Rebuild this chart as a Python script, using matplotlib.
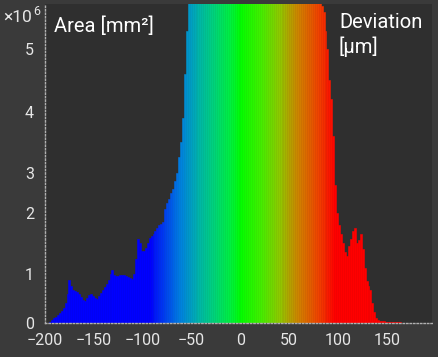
import numpy as np
import matplotlib
matplotlib.use("Agg")
import matplotlib.pyplot as plt
from matplotlib.colors import LinearSegmentedColormap, Normalize

# histogram of deviation, bins 2 um wide, area in 1e6 mm^2
centers = np.arange(-199, 197, 2)
area = [
    0.0, 0.01, 0.03, 0.06, 0.1,
    0.12, 0.16, 0.2, 0.24, 0.3,
    0.4, 0.6, 0.88, 0.75, 0.68,
    0.65, 0.64, 0.6, 0.52, 0.46,
    0.44, 0.5, 0.58, 0.6, 0.55,
    0.5, 0.48, 0.55, 0.62, 0.68,
    0.74, 0.8, 0.88, 1.0, 1.07,
    0.97, 0.95, 0.96, 0.98, 0.97,
    0.97, 0.95, 0.93, 0.92, 0.9,
    1.0, 1.25, 1.57, 1.5, 1.38,
    1.38, 1.42, 1.5, 1.58, 1.62,
    1.65, 1.7, 1.75, 1.8, 1.82,
    1.85, 2.1, 2.25, 2.35, 2.5,
    2.6, 2.8, 3.0, 3.25, 3.5,
    3.9, 4.6, 5.3, 5.9, 7.0,
    8.0, 9.0, 10.0, 11.0, 12.0,
    13, 14, 15, 16, 17,
    18, 19, 20, 21, 22,
    22, 23, 23, 24, 24,
    24, 25, 25, 25, 25,
    25, 25, 24, 24, 24,
    23, 23, 22, 22, 21,
    20, 19, 18, 17, 16,
    15, 14, 13, 12, 11,
    10, 9.5, 9, 8.5, 8,
    7.5, 7.2, 7, 6.8, 6.6,
    6.4, 6.3, 6.2, 6.1, 6.0,
    6.0, 6.0, 5.95, 5.9, 5.85,
    5.8, 5.7, 5.6, 5.3, 5.0,
    4.5, 4.2, 3.6, 2.7, 2.0,
    1.8, 1.65, 1.5, 1.35, 1.3,
    1.45, 1.57, 1.7, 1.75, 1.5,
    1.55, 1.65, 1.4, 1.1, 0.85,
    0.75, 0.68, 0.4, 0.22, 0.1,
    0.06, 0.05, 0.04, 0.035, 0.03,
    0.02, 0.02, 0.015, 0.015, 0.015,
    0.015, 0.012, 0.01, 0.01, 0.01,
    0.008, 0.008, 0.006, 0.006, 0.005,
    0.005, 0.005, 0.005, 0.005, 0.005,
    0.005, 0.005, 0.005,
]
xticks = [-200, -150, -100, -50, 0, 50, 100, 150]
yticks = [0, 1, 2, 3, 4, 5]

# colour stops of the deviation scale
stop_x = [-93, -62, -45, -29, -11, 0, 20, 40, 60, 80, 97]
stop_c = ["#0000ff", "#0080e0", "#00b0b0", "#00d080", "#00f040", "#00ff00",
          "#40f000", "#90c800", "#d08000", "#f04000", "#ff0000"]

# the y axis of the original is not linear, tick spacing is uneven
yv = [-1, 0, 1, 2, 3, 4, 5, 30]
yh = [-50, 0, 49, 110, 150, 211, 273, 273 + 25 * 62]
fwd = lambda v: np.interp(v, yv, yh)
inv = lambda h: np.interp(h, yh, yv)

plt.rcParams['font.family'] = ['Roboto', 'DejaVu Sans']
W, H = 438, 357
fig = plt.figure(figsize=(W / 100, H / 100), dpi=100, facecolor="#3a3a3a")
ax = fig.add_axes([45 / W, 1 - 323 / H, (432 - 45) / W, (323 - 4) / H])
ax.set_facecolor("#2f2f2f")

lo, hi = stop_x[0], stop_x[-1]
cmap = LinearSegmentedColormap.from_list(
    "dev", [((s - lo) / (hi - lo), c) for s, c in zip(stop_x, stop_c)])
norm = Normalize(lo, hi, clip=True)
cols = cmap(norm(centers))
ax.bar(centers, area, width=2.0, color=cols, edgecolor=cols, linewidth=0.4)

ax.set_yscale("function", functions=(fwd, inv))
ax.set_xlim(-200, 196)
ax.set_ylim(0, 5.73)
ax.set_xticks(xticks)
ax.set_xticklabels([str(t).replace("-", "\u2212") for t in xticks])
ax.set_yticks(yticks)
ax.yaxis.set_minor_locator(matplotlib.ticker.NullLocator())
ax.tick_params(colors="#e6e6e6", labelsize=11.5, length=0)
ax.tick_params(axis="x", pad=7)
ax.tick_params(axis="y", pad=8)

for s in ["top", "right"]:
    ax.spines[s].set_visible(False)
for s in ["left", "bottom"]:
    ax.spines[s].set_color("#b0b0b0")
    ax.spines[s].set_linestyle((0, (1, 1.5)))
    ax.spines[s].set_linewidth(1)

px = lambda x, y: (x / W, 1 - y / H)
fig.text(*px(3, 22), "\u00d710", color="#e6e6e6", fontsize=12.5, va="baseline")
fig.text(*px(33, 15), "6", color="#e6e6e6", fontsize=9, va="baseline")
fig.text(*px(54, 32), "Area [mm\u00b2]", color="white", fontsize=14.5, va="baseline")
fig.text(*px(339, 28), "Deviation", color="white", fontsize=14.5, va="baseline")
fig.text(*px(339, 53), "[\u03bcm]", color="white", fontsize=14.5, va="baseline")

fig.savefig("out.png", dpi=100, facecolor=fig.get_facecolor())
